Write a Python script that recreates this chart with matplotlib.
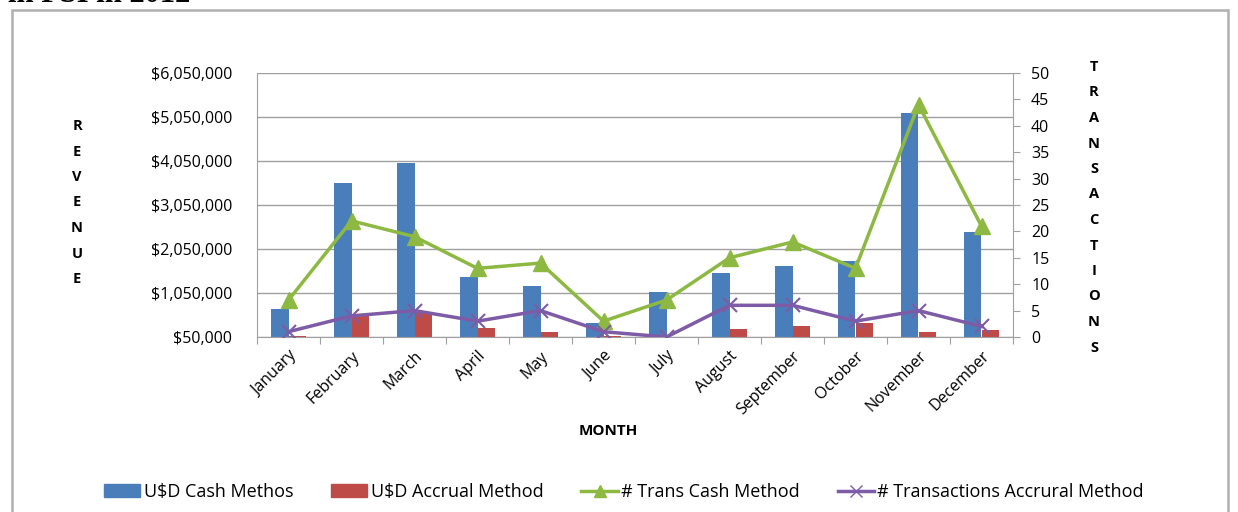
import numpy as np
import matplotlib.pyplot as plt
from matplotlib.patches import Rectangle
from matplotlib.lines import Line2D

plt.rcParams['font.family'] = ['Open Sans', 'DejaVu Sans']

months = ["January", "February", "March", "April", "May", "June", "July",
          "August", "September", "October", "November", "December"]
usd_cash = [680000, 3540000, 4000000, 1420000, 1210000, 375000, 1080000,
            1510000, 1660000, 1780000, 5130000, 2440000]
usd_accrual = [70000, 530000, 590000, 260000, 160000, 80000, 50000,
               240000, 300000, 360000, 160000, 210000]
trans_cash = [7, 22, 19, 13, 14, 3, 7, 15, 18, 13, 44, 21]
trans_accrual = [1, 4, 5, 3, 5, 1, 0, 6, 6, 3, 5, 2]

base = 50000
left_ticks = np.arange(50000, 6050001, 1000000)
right_ticks = np.arange(0, 51, 5)

blue = '#4A7EBB'
red = '#BE4B48'
green = '#8DB943'
purple = '#7D5BA6'

W, H = 1238, 512
fig = plt.figure(figsize=(W / 100, H / 100), dpi=100)

# outer frame of the chart object
fig.patches.append(Rectangle((12 / W, -0.02), 1216 / W, 1 - 10 / H + 0.02,
                             transform=fig.transFigure, fill=False,
                             edgecolor='#B0B0B0', linewidth=1.8))

# heading above the chart, cut by the top edge as in the source
fig.text(8 / W, 1.0 + 5 / H, "in FSI in 2012", family='Liberation Serif',
         fontweight='bold', fontsize=22, ha='left', va='center')

ax = fig.add_axes([257 / W, 1 - 337 / H, (1013 - 257) / W, (337 - 73) / H])
x = np.arange(len(months))
bw = 0.28
ax.bar(x - bw / 2, np.array(usd_cash) - base, bw, bottom=base, color=blue, zorder=2)
ax.bar(x + bw / 2, np.array(usd_accrual) - base, bw, bottom=base, color=red, zorder=2)

ax.set_xlim(-0.5, len(months) - 0.5)
ax.set_ylim(base, 6050000)
ax.set_yticks(left_ticks)
ax.set_yticklabels([f"${v:,.0f}" for v in left_ticks], fontsize=11.5)
ax.yaxis.grid(True, color='#A0A0A0', linewidth=1)
ax.set_axisbelow(True)
ax.tick_params(axis='y', length=0, pad=18)
for s in ['top', 'right']:
    ax.spines[s].set_visible(False)
ax.spines['left'].set_color('#A0A0A0')
ax.spines['bottom'].set_color('#A0A0A0')

ax.set_xticks(np.arange(-0.5, len(months), 1.0), minor=False)
ax.set_xticklabels([])
ax.set_xticks(x, minor=True)
ax.set_xticklabels(months, minor=True, rotation=45, ha='right',
                   rotation_mode='anchor', fontsize=11.5)
ax.tick_params(axis='x', which='major', length=5, color='#A0A0A0')
ax.tick_params(axis='x', which='minor', length=0, pad=8)

ax2 = ax.twinx()
ax2.set_ylim(0, 50)
ax2.set_yticks(right_ticks)
ax2.set_yticklabels([str(v) for v in right_ticks], fontsize=11.5)
ax2.tick_params(axis='y', length=5, color='#A0A0A0', pad=8)
for s in ['top', 'left', 'bottom']:
    ax2.spines[s].set_visible(False)
ax2.spines['right'].set_color('#A0A0A0')
ax2.plot(x, trans_cash, color=green, linewidth=2.5, marker='^',
         markersize=11, zorder=3)
ax2.plot(x, trans_accrual, color=purple, linewidth=2.5, marker='x',
         markersize=10, markeredgewidth=1.5, zorder=3)

# stacked vertical axis titles
for i, ch in enumerate("REVENUE"):
    fig.text(77 / W, 1 - (126 + i * 25.5) / H, ch, fontsize=10.5,
             fontweight='bold', ha='center', va='center')
for i, ch in enumerate("TRANSACTIONS"):
    fig.text(1094 / W, 1 - (67 + i * 25.5) / H, ch, fontsize=10.5,
             fontweight='bold', ha='center', va='center')
fig.text(608 / W, 1 - 431 / H, "MONTH", fontsize=11, fontweight='bold',
         ha='center', va='center')

handles = [Rectangle((0, 0), 1, 1, color=blue),
           Rectangle((0, 0), 1, 1, color=red),
           Line2D([], [], color=green, linewidth=2.5, marker='^', markersize=8),
           Line2D([], [], color=purple, linewidth=2.5, marker='x', markersize=8)]
labels = ["U$D Cash Methos", "U$D Accrual Method", "# Trans Cash Method",
          "# Transactions Accrural Method"]
fig.legend(handles, labels, loc='center', bbox_to_anchor=(624 / W, 1 - 492 / H),
           ncol=4, frameon=False, fontsize=13, handlelength=2.0,
           handletextpad=0.2, columnspacing=2.1)

fig.savefig("out.png", dpi=100)
